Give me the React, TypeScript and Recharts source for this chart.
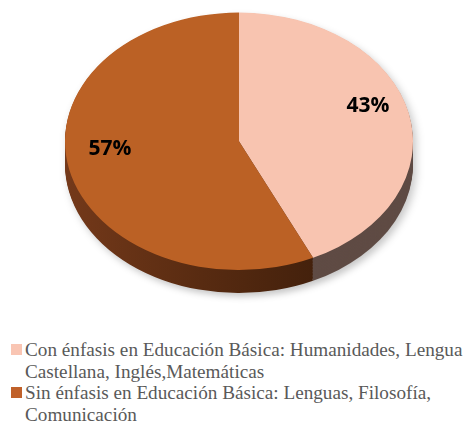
import React from "react";
import { PieChart, Pie, Cell } from "recharts";

const categories = [
  "Con énfasis en Educación Básica: Humanidades, Lengua Castellana, Inglés,Matemáticas",
  "Sin énfasis en Educación Básica: Lenguas, Filosofía, Comunicación",
];
const values = [43, 57];
const topColors = ["#f8c4b0", "#bb6125"];
const sideColors = ["#5f4b44", "url(#sideOrange)"];
const legendColors = ["#f9c5b3", "#c0612a"];

const data = categories.map((name, i) => ({ name, value: values[i] }));

const TILT = 0.74; // vertical squash of the pie (3D look)
const CX = 239;
const CY = 191;
const R = 174;
const DEPTH = 31;
const STEP = 2;

const RADIAN = Math.PI / 180;

// side layers, deepest first
const layers: number[] = [];
for (let d = DEPTH; d > 0; d -= STEP) layers.push(d);

function renderLabel(props: any) {
  const { cx, cy, midAngle, outerRadius, percent } = props;
  const r = outerRadius * 0.76;
  const x = cx + r * Math.cos(-midAngle * RADIAN);
  const y = cy + r * Math.sin(-midAngle * RADIAN) - 16 / TILT;
  return (
    <text
      transform={`translate(${x} ${y}) scale(1 ${1 / TILT})`}
      textAnchor="middle"
      dominantBaseline="central"
      fill="#000"
      fontFamily="'Open Sans', sans-serif"
      fontWeight={700}
      fontSize={21}
    >
      {`${Math.round(percent * 100)}%`}
    </text>
  );
}

export default function App() {
  return (
    <div
      style={{
        position: "absolute",
        left: 0,
        top: 0,
        width: 474,
        height: 424,
        background: "#fff",
        overflow: "hidden",
      }}
    >
      <svg width={0} height={0} style={{ position: "absolute" }}>
        <defs>
          <linearGradient id="sideOrange" x1="0" y1="0" x2="1" y2="0">
            <stop offset="0%" stopColor="#74391a" />
            <stop offset="55%" stopColor="#582b11" />
            <stop offset="100%" stopColor="#44210c" />
          </linearGradient>
        </defs>
      </svg>

      {/* pie, squashed vertically */}
      <div
        style={{
          position: "absolute",
          left: 0,
          top: 0,
          transform: `scaleY(${TILT})`,
          transformOrigin: "0 0",
          filter: "drop-shadow(3px 5px 4px rgba(0,0,0,0.22))",
        }}
      >
        <PieChart width={474} height={420} margin={{ top: 0, right: 0, bottom: 0, left: 0 }}>
          {layers.map((d) => (
            <Pie
              key={`side-${d}`}
              data={data}
              dataKey="value"
              cx={CX}
              cy={CY + d}
              outerRadius={R}
              startAngle={90}
              endAngle={-270}
              stroke="none"
              isAnimationActive={false}
            >
              {data.map((_, i) => (
                <Cell key={i} fill={sideColors[i]} />
              ))}
            </Pie>
          ))}
          <Pie
            data={data}
            dataKey="value"
            cx={CX}
            cy={CY}
            outerRadius={R}
            startAngle={90}
            endAngle={-270}
            stroke="none"
            labelLine={false}
            label={renderLabel}
            isAnimationActive={false}
          >
            {data.map((_, i) => (
              <Cell key={i} fill={topColors[i]} />
            ))}
          </Pie>
        </PieChart>
      </div>

      {/* legend */}
      <div
        style={{
          position: "absolute",
          left: 11,
          top: 339,
          width: 463,
          fontFamily: "Liberation Serif, Tinos, Times New Roman, Times, DejaVu Serif, serif",
          fontSize: 19.2,
          lineHeight: "21.5px",
          color: "#595959",
        }}
      >
        {categories.map((c, i) => (
          <div key={c} style={{ display: "flex", alignItems: "flex-start" }}>
            <span
              style={{
                display: "inline-block",
                width: 11,
                height: 11,
                marginTop: 5,
                marginRight: 3,
                flex: "none",
                background: legendColors[i],
              }}
            />
            <span>{c}</span>
          </div>
        ))}
      </div>
    </div>
  );
}
